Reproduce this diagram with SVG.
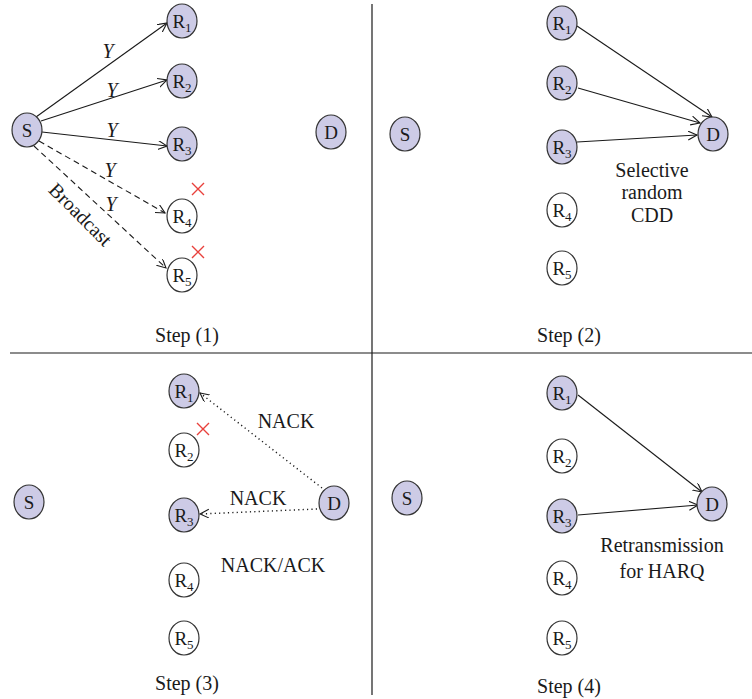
<svg xmlns="http://www.w3.org/2000/svg" width="752" height="699" viewBox="0 0 752 699">
<style>
text{font-family:"Liberation Serif","Times New Roman",serif;fill:#1a1a1a}
.n ellipse{stroke:#333;stroke-width:1.2}
.f{fill:#cdcbe6}
.w{fill:#fff}
.lb{font-size:19px;text-anchor:middle}
.sub{font-size:13px}
.e{stroke:#1a1a1a;stroke-width:1.1;fill:none;marker-end:url(#ah)}
.d{stroke-dasharray:6,4}
.o{stroke-dasharray:1.2,3.2;stroke-width:1.4}
.t{font-size:20px;text-anchor:middle}
.y{font-size:20px;font-style:italic;text-anchor:middle}
.x{stroke:#e8413c;stroke-width:1.4}
.div{stroke:#1a1a1a;stroke-width:1.2}
</style>
<defs>
<marker id="ah" markerUnits="userSpaceOnUse" markerWidth="12" markerHeight="12" refX="9" refY="4.5" orient="auto">
<path d="M0,0 L9,4.5 L0,9" fill="none" stroke="#1a1a1a" stroke-width="1.1"/>
</marker>
</defs>
<g id="dividers">
<line class="div" x1="372" y1="4" x2="372" y2="695"/>
<line class="div" x1="10" y1="353" x2="752" y2="353"/>
</g>
<g id="connectors">
<line class="e" x1="36" y1="117" x2="167" y2="23"/>
<line class="e" x1="41" y1="121" x2="167" y2="80"/>
<line class="e" x1="42" y1="132" x2="167" y2="146"/>
<line class="e d" x1="39" y1="141" x2="165" y2="213"/>
<line class="e d" x1="34" y1="146" x2="166" y2="268"/>
<line class="e" x1="577" y1="26" x2="712" y2="117"/>
<line class="e" x1="578" y1="88" x2="700" y2="123"/>
<line class="e" x1="577" y1="142" x2="697" y2="135"/>
<line class="e o" x1="322" y1="488" x2="200" y2="393"/>
<line class="e o" x1="317" y1="509" x2="200" y2="514"/>
<line class="e" x1="578" y1="395" x2="702" y2="492"/>
<line class="e" x1="578" y1="515" x2="698" y2="505"/>
</g>
<g id="labels">
<text class="y" x="108" y="58">Y</text>
<text class="y" x="112" y="97">Y</text>
<text class="y" x="112" y="137">Y</text>
<text class="y" x="110" y="177">Y</text>
<text class="y" x="111" y="211">Y</text>
<text class="t" transform="translate(80,215) rotate(45)" x="0" y="6">Broadcast</text>
<text class="t" x="652" y="177">Selective</text>
<text class="t" x="652" y="199">random</text>
<text class="t" x="652" y="222">CDD</text>
<text class="t" x="286" y="428">NACK</text>
<text class="t" x="258" y="505">NACK</text>
<text class="t" x="273" y="572">NACK/ACK</text>
<text class="t" x="662" y="552">Retransmission</text>
<text class="t" x="662" y="578">for HARQ</text>
<text class="t" x="187" y="342">Step (1)</text>
<text class="t" x="569" y="342">Step (2)</text>
<text class="t" x="187" y="690">Step (3)</text>
<text class="t" x="569" y="693">Step (4)</text>
</g>
<g id="fail-marks">
<path class="x" d="M192,183 L204,195 M204,183 L192,195"/>
<path class="x" d="M192,246 L204,258 M204,246 L192,258"/>
<path class="x" d="M197,423 L209,435 M209,423 L197,435"/>
</g>
<g id="q1-S" class="n"><ellipse class="f" cx="27" cy="130" rx="15" ry="17"/><text class="lb" x="27" y="137">S</text></g>
<g id="q1-R1" class="n"><ellipse class="f" cx="182" cy="21" rx="15" ry="17"/><text class="lb" x="182" y="28">R<tspan class="sub" dy="4">1</tspan></text></g>
<g id="q1-R2" class="n"><ellipse class="f" cx="182" cy="81" rx="15" ry="17"/><text class="lb" x="182" y="88">R<tspan class="sub" dy="4">2</tspan></text></g>
<g id="q1-R3" class="n"><ellipse class="f" cx="182" cy="144" rx="15" ry="17"/><text class="lb" x="182" y="151">R<tspan class="sub" dy="4">3</tspan></text></g>
<g id="q1-R4" class="n"><ellipse class="w" cx="182" cy="216" rx="15" ry="17"/><text class="lb" x="182" y="223">R<tspan class="sub" dy="4">4</tspan></text></g>
<g id="q1-R5" class="n"><ellipse class="w" cx="182" cy="275" rx="15" ry="17"/><text class="lb" x="182" y="282">R<tspan class="sub" dy="4">5</tspan></text></g>
<g id="q1-D" class="n"><ellipse class="f" cx="331" cy="132" rx="15" ry="17"/><text class="lb" x="331" y="139">D</text></g>
<g id="q2-S" class="n"><ellipse class="f" cx="405" cy="134" rx="15" ry="17"/><text class="lb" x="405" y="141">S</text></g>
<g id="q2-R1" class="n"><ellipse class="f" cx="562" cy="23" rx="15" ry="17"/><text class="lb" x="562" y="30">R<tspan class="sub" dy="4">1</tspan></text></g>
<g id="q2-R2" class="n"><ellipse class="f" cx="562" cy="83" rx="15" ry="17"/><text class="lb" x="562" y="90">R<tspan class="sub" dy="4">2</tspan></text></g>
<g id="q2-R3" class="n"><ellipse class="f" cx="562" cy="147" rx="15" ry="17"/><text class="lb" x="562" y="154">R<tspan class="sub" dy="4">3</tspan></text></g>
<g id="q2-R4" class="n"><ellipse class="w" cx="562" cy="210" rx="15" ry="17"/><text class="lb" x="562" y="217">R<tspan class="sub" dy="4">4</tspan></text></g>
<g id="q2-R5" class="n"><ellipse class="w" cx="562" cy="268" rx="15" ry="17"/><text class="lb" x="562" y="275">R<tspan class="sub" dy="4">5</tspan></text></g>
<g id="q2-D" class="n"><ellipse class="f" cx="713" cy="134" rx="15" ry="17"/><text class="lb" x="713" y="141">D</text></g>
<g id="q3-S" class="n"><ellipse class="f" cx="29" cy="502" rx="15" ry="17"/><text class="lb" x="29" y="509">S</text></g>
<g id="q3-R1" class="n"><ellipse class="f" cx="184" cy="391" rx="15" ry="17"/><text class="lb" x="184" y="398">R<tspan class="sub" dy="4">1</tspan></text></g>
<g id="q3-R2" class="n"><ellipse class="w" cx="184" cy="450" rx="15" ry="17"/><text class="lb" x="184" y="457">R<tspan class="sub" dy="4">2</tspan></text></g>
<g id="q3-R3" class="n"><ellipse class="f" cx="184" cy="515" rx="15" ry="17"/><text class="lb" x="184" y="522">R<tspan class="sub" dy="4">3</tspan></text></g>
<g id="q3-R4" class="n"><ellipse class="w" cx="184" cy="580" rx="15" ry="17"/><text class="lb" x="184" y="587">R<tspan class="sub" dy="4">4</tspan></text></g>
<g id="q3-R5" class="n"><ellipse class="w" cx="184" cy="638" rx="15" ry="17"/><text class="lb" x="184" y="645">R<tspan class="sub" dy="4">5</tspan></text></g>
<g id="q3-D" class="n"><ellipse class="f" cx="334" cy="503" rx="15" ry="17"/><text class="lb" x="334" y="510">D</text></g>
<g id="q4-S" class="n"><ellipse class="f" cx="407" cy="498" rx="15" ry="17"/><text class="lb" x="407" y="505">S</text></g>
<g id="q4-R1" class="n"><ellipse class="f" cx="562" cy="393" rx="15" ry="17"/><text class="lb" x="562" y="400">R<tspan class="sub" dy="4">1</tspan></text></g>
<g id="q4-R2" class="n"><ellipse class="w" cx="562" cy="456" rx="15" ry="17"/><text class="lb" x="562" y="463">R<tspan class="sub" dy="4">2</tspan></text></g>
<g id="q4-R3" class="n"><ellipse class="f" cx="562" cy="516" rx="15" ry="17"/><text class="lb" x="562" y="523">R<tspan class="sub" dy="4">3</tspan></text></g>
<g id="q4-R4" class="n"><ellipse class="w" cx="562" cy="578" rx="15" ry="17"/><text class="lb" x="562" y="585">R<tspan class="sub" dy="4">4</tspan></text></g>
<g id="q4-R5" class="n"><ellipse class="w" cx="562" cy="638" rx="15" ry="17"/><text class="lb" x="562" y="645">R<tspan class="sub" dy="4">5</tspan></text></g>
<g id="q4-D" class="n"><ellipse class="f" cx="712" cy="504" rx="15" ry="17"/><text class="lb" x="712" y="511">D</text></g>
</svg>
